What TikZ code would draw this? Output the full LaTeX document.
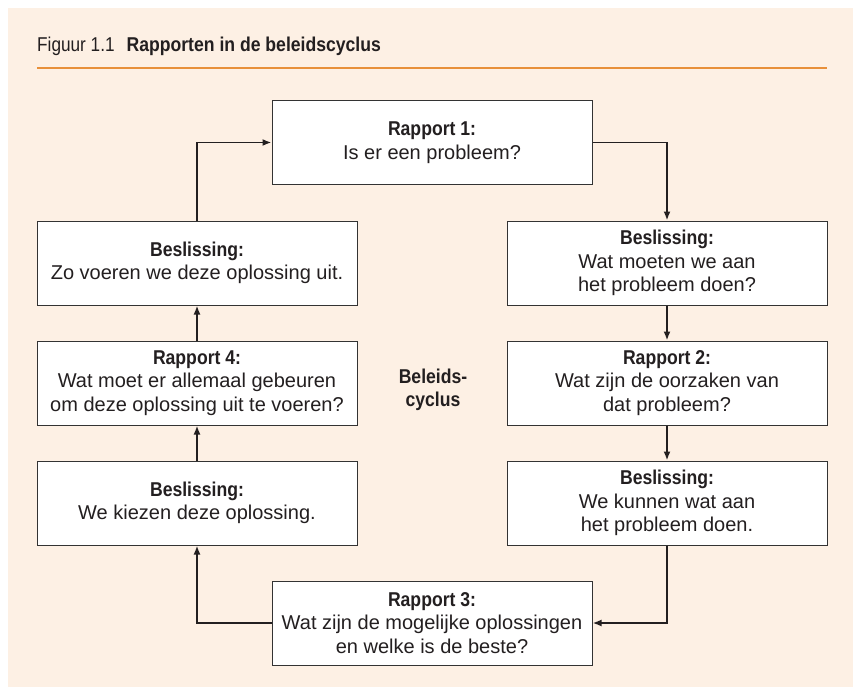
\documentclass[tikz,border=0pt]{standalone}
\usepackage{fontspec}
\setmainfont{Liberation Sans}[BoldFeatures={FakeStretch=0.88}]
\newfontfamily\titlefont{Liberation Sans}[FakeStretch=0.86,BoldFeatures={FakeStretch=0.88}]
\usetikzlibrary{arrows.meta}
\definecolor{peach}{HTML}{FDF0E4}
\definecolor{orangeline}{HTML}{E8903A}
\definecolor{ink}{HTML}{231F20}
\definecolor{boxline}{HTML}{333333}
\tikzset{
  cbox/.style={draw=boxline, line width=1pt, fill=white, minimum width=320pt, minimum height=84pt,
    inner sep=0pt, align=center, text=ink, font=\fontsize{20}{23.5}\selectfont},
  arr/.style={draw=ink, line width=1.8pt, -{Latex[length=9pt,width=7pt]}},
  plainlbl/.style={text=ink, align=center, font=\fontsize{20}{23}\selectfont\bfseries}
}
\begin{document}
\begin{tikzpicture}[x=1pt,y=-1pt]
\useasboundingbox (0,0) rectangle (853,687);
\fill[white] (0,0) rectangle (853,687);
\fill[peach] (8,8) rectangle (853,687);
\draw[orangeline, line width=2pt] (37,68) -- (827,68);
\node[anchor=base west, inner sep=0pt, text=ink, font=\titlefont\fontsize{20}{24}\selectfont] (title) at (37,52)
  {Figuur 1.1\hspace{0.6em}\textbf{Rapporten in de beleidscyclus}};

\node[cbox] (r1) at (432,142.5) {\textbf{Rapport 1:}\\Is er een probleem?};
\node[cbox] (br1) at (667,263) {\textbf{Beslissing:}\\Wat moeten we aan\\het probleem doen?};
\node[cbox] (r2) at (667,383) {\textbf{Rapport 2:}\\Wat zijn de oorzaken van\\dat probleem?};
\node[cbox] (br2) at (667,503) {\textbf{Beslissing:}\\We kunnen wat aan\\het probleem doen.};
\node[cbox] (r3) at (432,623) {\textbf{Rapport 3:}\\Wat zijn de mogelijke oplossingen\\en welke is de beste?};
\node[cbox] (bl2) at (197,503) {\textbf{Beslissing:}\\We kiezen deze oplossing.};
\node[cbox] (r4) at (197,383) {\textbf{Rapport 4:}\\Wat moet er allemaal gebeuren\\om deze oplossing uit te voeren?};
\node[cbox] (bl1) at (197,263) {\textbf{Beslissing:}\\Zo voeren we deze oplossing uit.};
\node[plainlbl] (cyc) at (433,390) {Beleids-\\cyclus};

\draw[arr] (r1.east) -| (br1.north);
\draw[arr] (br1.south) -- (r2.north);
\draw[arr] (r2.south) -- (br2.north);
\draw[arr] (br2.south) |- (r3.east);
\draw[arr] (r3.west) -| (bl2.south);
\draw[arr] (bl2.north) -- (r4.south);
\draw[arr] (r4.north) -- (bl1.south);
\draw[arr] (bl1.north) |- (r1.west);
\end{tikzpicture}
\end{document}
